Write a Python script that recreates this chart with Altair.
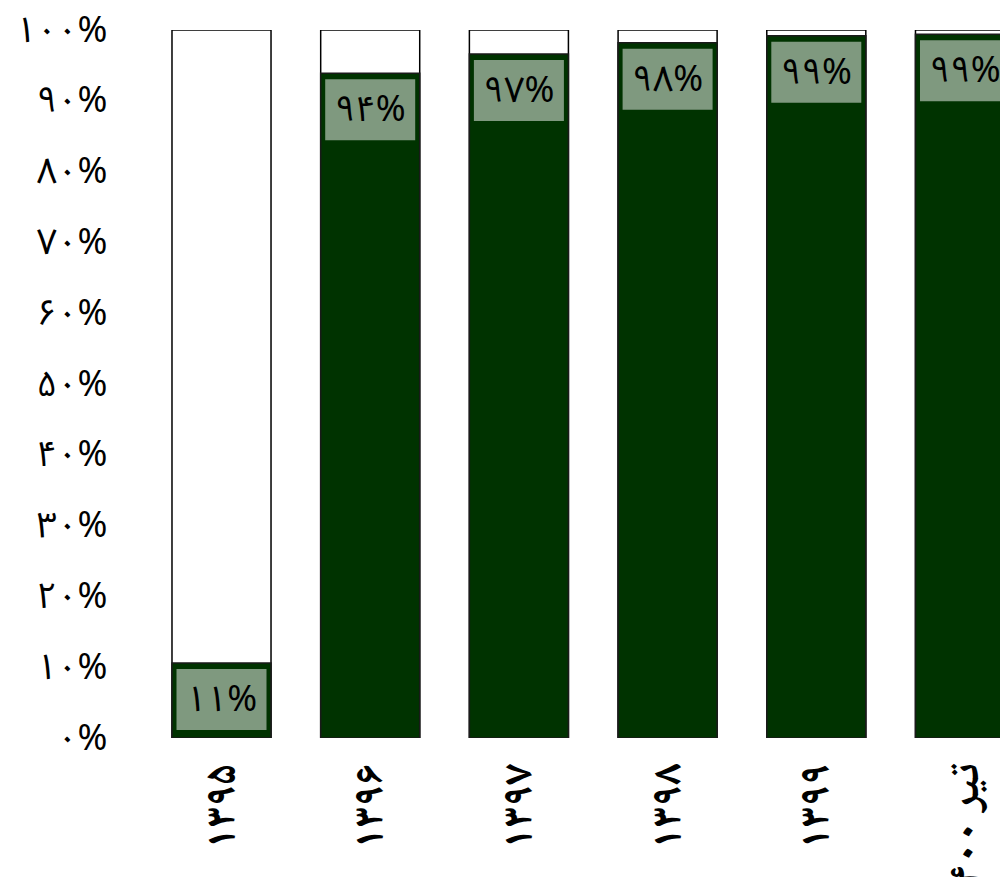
import altair as alt
import pandas as pd
import json

categories = ["۱۳۹۵", "۱۳۹۶", "۱۳۹۷", "۱۳۹۸", "۱۳۹۹", "تیر ۱۴۰۰"]
green_share = [10.6, 93.9, 96.6, 98.2, 99.2, 99.4]
bar_labels = ["۱۱%", "۹۴%", "۹۷%", "۹۸%", "۹۹%", "۹۹%"]
y_ticks = [0, 10, 20, 30, 40, 50, 60, 70, 80, 90, 100]
y_tick_labels = ["۰%", "۱۰%", "۲۰%", "۳۰%", "۴۰%", "۵۰%", "۶۰%", "۷۰%", "۸۰%", "۹۰%", "۱۰۰%"]

df = pd.DataFrame({"cat": categories, "green": green_share, "label": bar_labels})
df["rest"] = 100 - df["green"]
df["total"] = df["green"] + df["rest"]

FONT = "Noto Sans, Noto Sans Arabic"
XFONT = "Noto Naskh Arabic"
GREEN = "#003300"
BOX = "#7f997f"

label_expr = json.dumps(y_tick_labels, ensure_ascii=False) + "[round(datum.value/10)]"

x = alt.X(
    "cat:N",
    sort=categories,
    title=None,
    scale=alt.Scale(range=[0, 936.5], paddingInner=0.334, paddingOuter=0.316),
    axis=alt.Axis(
        labelAngle=-90, labelAlign="right", labelBaseline="middle",
        labelFont=XFONT, labelFontSize=44, labelFontWeight="bold",
        labelColor="black", labelPadding=25, ticks=False, domain=False,
        labelLimit=0,
    ),
)
yscale = alt.Scale(domain=[0, 100], nice=False)

base = alt.Chart(df)

white = base.mark_bar(color="white", stroke="black", strokeWidth=1.5, clip=True).encode(
    x=x,
    y=alt.Y(
        "total:Q", scale=yscale, title=None,
        axis=alt.Axis(
            values=y_ticks, labelExpr=label_expr, labelFont=FONT, labelFontSize=36,
            labelColor="black", labelPadding=18, ticks=False, domain=False, grid=False,
            labelBaseline="middle",
        ),
    ),
)
green = base.mark_bar(color=GREEN, stroke="#1a1a1a", strokeWidth=1.5, clip=True).encode(
    x=x, y=alt.Y("green:Q", scale=yscale)
)
box = base.mark_bar(color=BOX, size=90, yOffset=6, y2Offset=67, clip=True).encode(
    x=x, y=alt.Y("green:Q", scale=yscale), y2=alt.Y2("green")
)
text = base.mark_text(
    font=FONT, fontSize=36, color="black", baseline="middle", align="center", dy=37, clip=True
).encode(x=x, y=alt.Y("green:Q", scale=yscale), text="label:N")

chart = alt.layer(white, green, box, text).properties(
    width=875, height=708,
    background="white",
    autosize=alt.AutoSizeParams(type="none"),
    padding={"left": 117, "top": 22, "right": 0, "bottom": 139},
).configure_view(stroke=None, strokeWidth=0)

chart.save("out.html", embed_options={"renderer": "svg", "actions": False})
